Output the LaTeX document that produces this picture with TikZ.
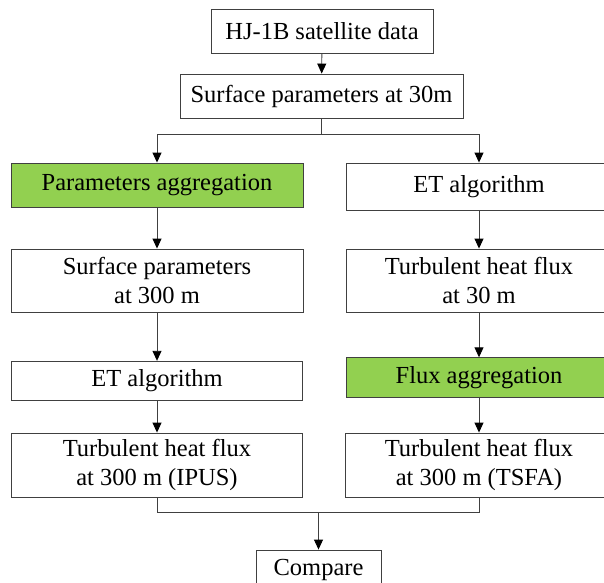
\documentclass[tikz,border=0pt]{standalone}
\usepackage{fontspec}
\setmainfont{Liberation Serif}
\usetikzlibrary{arrows.meta}
\definecolor{aggreen}{HTML}{92D050}
\definecolor{edge}{HTML}{404040}
\tikzset{
  box/.style={draw=edge, line width=0.9pt, fill=white, inner sep=0pt, align=center,
    font=\fontsize{24.5}{28.5}\selectfont},
  greenbox/.style={box, fill=aggreen},
  link/.style={draw=edge, line width=0.9pt},
  arr/.style={link, -{Triangle[length=10pt,width=9pt,color=black]}}
}
\begin{document}
\begin{tikzpicture}[x=1pt, y=-1pt]
  \useasboundingbox (0,0) rectangle (604,582);
  \clip (0,0) rectangle (604,582);
  \fill[white] (0,0) rectangle (604,582);

  % top of the chain
  \node[box, minimum width=222pt, minimum height=44pt] (hj) at (322,31) {HJ-1B satellite data};
  \node[box, minimum width=283pt, minimum height=44pt] (s30) at (321.5,96) {Surface parameters at 30m};

  % left branch: aggregate parameters first
  \node[greenbox, minimum width=292pt, minimum height=44pt] (pa) at (157,185) {Parameters aggregation};
  \node[box, minimum width=292pt, minimum height=63pt] (sp300) at (157,280.5) {Surface parameters\\at 300 m};
  \node[box, minimum width=291pt, minimum height=39.5pt] (etL) at (157,381) {ET algorithm};
  \node[box, minimum width=291pt, minimum height=64pt] (ipus) at (157,465) {Turbulent heat flux\\at 300 m (IPUS)};

  % right branch: aggregate fluxes afterwards
  \node[box, minimum width=266pt, minimum height=47pt] (etR) at (479,186.5) {ET algorithm};
  \node[box, minimum width=266pt, minimum height=63pt] (tf30) at (479,280.5) {Turbulent heat flux\\at 30 m};
  \node[greenbox, minimum width=266pt, minimum height=39.5pt] (fa) at (479,377.5) {Flux aggregation};
  \node[box, minimum width=268pt, minimum height=64pt] (tsfa) at (479,465) {Turbulent heat flux\\at 300 m (TSFA)};

  % comparison
  \node[box, minimum width=125pt, minimum height=40pt] (cmp) at (318.5,570) {Compare};

  \coordinate (split) at (321.5,134);
  \coordinate (join) at (318.5,512);

  \draw[arr] (hj) -- (s30);
  \draw[link] (s30) -- (split);
  \draw[arr] (split) -| (pa.north);
  \draw[arr] (split) -| (etR.north);

  \draw[arr] (pa) -- (sp300);
  \draw[arr] (sp300) -- (etL);
  \draw[arr] (etL) -- (ipus);

  \draw[arr] (etR) -- (tf30);
  \draw[arr] (tf30) -- (fa);
  \draw[arr] (fa) -- (tsfa);

  \draw[link] (ipus.south) |- (join) -| (tsfa.south);
  \draw[arr] (join) -- (cmp.north);
\end{tikzpicture}
\end{document}
